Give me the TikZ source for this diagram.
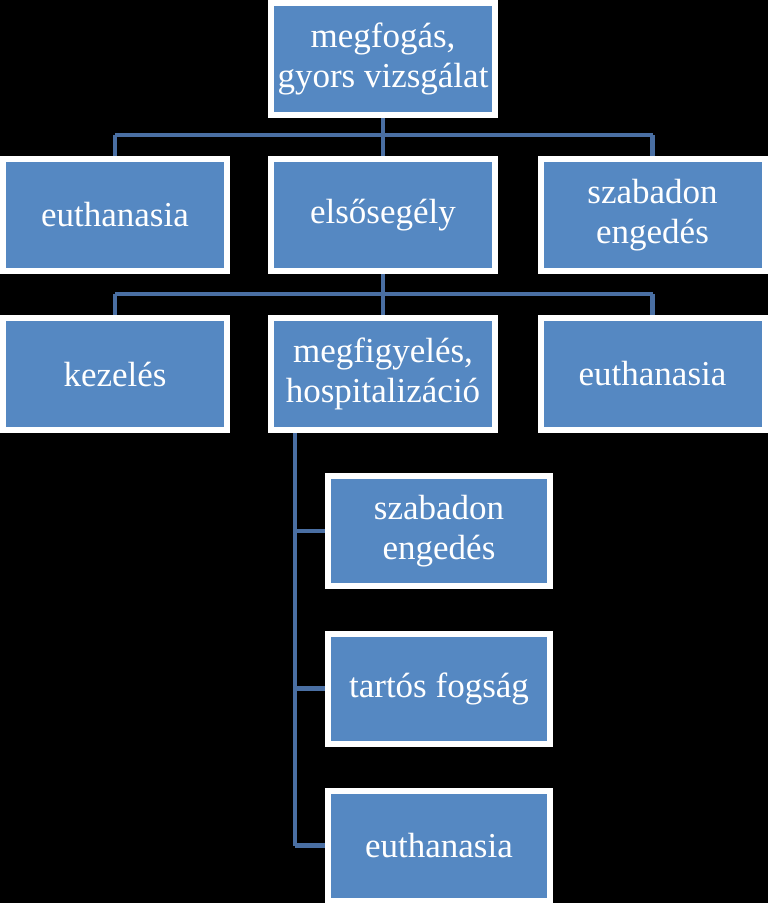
\documentclass[tikz,border=0pt]{standalone}
\usepackage{fontspec}
\setmainfont{Liberation Serif}
\definecolor{boxfill}{HTML}{5588C2}
\definecolor{linecol}{HTML}{4A6FA3}
\begin{document}
\begin{tikzpicture}[x=1pt,y=-1pt,
  box/.style={draw=white,line width=4pt,fill=boxfill,text=white,
    minimum width=222pt,minimum height=110pt,inner sep=0pt,align=center,
    font=\fontsize{35pt}{40pt}\selectfont},
  cbox/.style={box,minimum width=220pt,minimum height=108pt},
  conn/.style={draw=linecol,line width=4.5pt}]
\fill[black] (0,0) rectangle (768,903);
\useasboundingbox (0,0) rectangle (768,903);
% connectors first
\coordinate (j1) at (383,135);
\coordinate (j1l) at (115,135);
\coordinate (j1r) at (652.5,135);
\coordinate (j2) at (383,294);
\coordinate (j2l) at (115,294);
\coordinate (j2r) at (652.5,294);
\coordinate (v0) at (295,431);
\coordinate (v1) at (295,531);
\coordinate (v2) at (295,688.5);
\coordinate (v3) at (295,845.5);
% nodes
\node[box] (top) at (383,59) {megfogás,\\gyors vizsgálat};
\node[box] (a1) at (115,215) {euthanasia};
\node[box] (a2) at (383,215) {elsősegély};
\node[box] (a3) at (652.5,215) {szabadon\\engedés};
\node[box] (b1) at (115,374) {kezelés};
\node[box] (b2) at (383,374) {megfigyelés,\\hospitalizáció};
\node[box] (b3) at (652.5,374) {euthanasia};
\node[cbox] (c1) at (439,531) {szabadon\\engedés};
\node[cbox] (c2) at (439,688.5) {tartós fogság};
\node[cbox] (c3) at (439,845.5) {euthanasia};
\begin{scope}[on background layer/.style={}]
\end{scope}
\draw[conn] (top.south) -- (j1);
\draw[conn] (j1l) -- (j1r);
\draw[conn] (j1l) -- (a1.north);
\draw[conn] (j1) -- (a2.north);
\draw[conn] (j1r) -- (a3.north);
\draw[conn] (a2.south) -- (j2);
\draw[conn] (j2l) -- (j2r);
\draw[conn] (j2l) -- (b1.north);
\draw[conn] (j2) -- (b2.north);
\draw[conn] (j2r) -- (b3.north);
\draw[conn] (b2.south -| v0) -- (v3);
\draw[conn] (v1) -- (c1.west);
\draw[conn] (v2) -- (c2.west);
\draw[conn] (v3) -- (c3.west);
% redraw box borders over connector ends
\foreach \n in {top,a1,a2,a3,b1,b2,b3,c1,c2,c3}{
  \draw[white,line width=4pt] (\n.north west) rectangle (\n.south east);
}
\end{tikzpicture}
\end{document}
